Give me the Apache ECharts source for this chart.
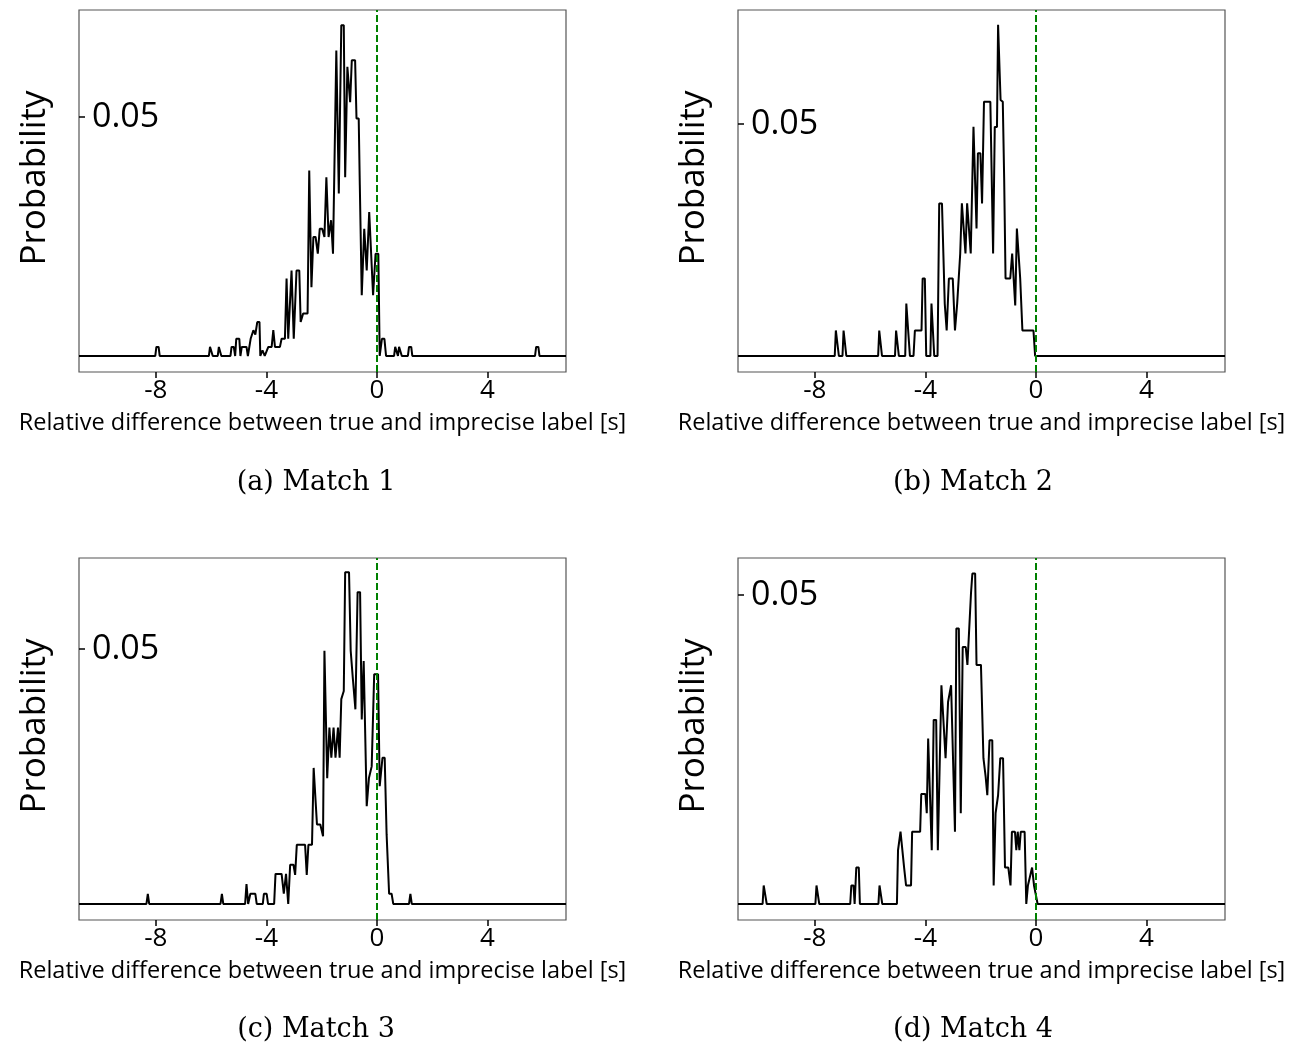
<!DOCTYPE html>
<html>
<head>
<meta charset="utf-8">
<script src="https://cdn.jsdelivr.net/npm/echarts@6/dist/echarts.min.js"></script>
<style>
  html, body { margin: 0; padding: 0; background: #fff; }
  #main { width: 1301px; height: 1044px; }
</style>
</head>
<body>
<div id="main"></div>
<script>
// x ticks and labels shared by every panel
const xTicks = [-8, -4, 0, 4];
const yTicks = [0.05];
const xTitle = 'Relative difference between true and imprecise label [s]';
const yTitle = 'Probability';
const captions = ['(a) Match 1', '(b) Match 2', '(c) Match 3', '(d) Match 4'];

// Match 1
const match1X = [-10.78, -8.02, -7.98, -7.90, -7.86, -6.08, -6.04, -5.98, -5.94, -5.76, -5.72, -5.67, -5.63,
  -5.30, -5.26, -5.18, -5.13, -5.09, -4.98, -4.94, -4.89, -4.72, -4.67, -4.63, -4.57, -4.47, -4.40, -4.33, -4.25,
  -4.22, -4.14, -4.06, -3.99, -3.93, -3.81, -3.75, -3.69, -3.51, -3.45, -3.33, -3.27, -3.21, -3.09, -3.01, -2.91,
  -2.81, -2.76, -2.67, -2.51, -2.45, -2.37, -2.30, -2.22, -2.14, -2.07, -1.98, -1.90, -1.83, -1.75, -1.66, -1.59,
  -1.52, -1.47, -1.38, -1.29, -1.20, -1.15, -1.07, -0.97, -0.91, -0.79, -0.74, -0.66, -0.62, -0.55, -0.46, -0.37,
  -0.28, -0.21, -0.14, -0.05, 0.05, 0.10, 0.18, 0.27, 0.33, 0.62, 0.66, 0.72, 0.76, 0.80, 0.86, 0.90, 1.12, 1.16,
  1.24, 1.28, 5.72, 5.76, 5.84, 5.88, 6.84];
const match1Y = [0, 0, 0.0019, 0.0019, 0, 0, 0.0019, 0.0019, 0, 0, 0.0019, 0.0019, 0,
  0, 0.0019, 0.0019, 0, 0.0036, 0.0036, 0, 0.0019, 0.0019, 0, 0, 0.0036, 0.0054, 0.0045, 0.0071, 0.0071,
  0, 0.0012, 0, 0, 0.0019, 0.0019, 0.0054, 0.0019, 0.0019, 0.0036, 0.0036, 0.0162, 0.0036, 0.0179, 0.0036, 0.0179,
  0.0179, 0.0071, 0.0089, 0.0089, 0.0388, 0.0144, 0.0249, 0.0249, 0.0214, 0.0266, 0.0266, 0.0249, 0.0374, 0.0249, 0.0284, 0.0214,
  0.0214, 0.0639, 0.0340, 0.0692, 0.0692, 0.0374, 0.0605, 0.0531, 0.0619, 0.0619, 0.0497, 0.0497, 0.0357, 0.0127, 0.0266, 0.0179,
  0.0301, 0.0301, 0.0127, 0.0214, 0.0214, 0, 0.0036, 0.0036, 0, 0, 0.0019, 0.0019, 0, 0.0019, 0.0019, 0, 0, 0.0019,
  0.0019, 0, 0, 0.0019, 0.0019, 0, 0];

// Match 2
const match2X = [-10.78, -7.28, -7.24, -7.18, -7.13, -7.00, -6.96, -6.91, -6.86, -5.71, -5.67, -5.61, -5.57,
  -5.10, -5.06, -5.00, -4.96, -4.73, -4.69, -4.62, -4.56, -4.43, -4.38, -4.14, -4.10, -4.02, -3.97, -3.82, -3.78,
  -3.73, -3.68, -3.56, -3.50, -3.40, -3.30, -3.23, -3.15, -3.01, -2.93, -2.85, -2.78, -2.74, -2.68, -2.61, -2.55,
  -2.49, -2.42, -2.36, -2.29, -2.26, -2.20, -2.15, -2.10, -2.01, -1.95, -1.91, -1.88, -1.65, -1.55, -1.49, -1.41,
  -1.37, -1.32, -1.28, -1.20, -1.15, -1.10, -0.93, -0.86, -0.80, -0.75, -0.69, -0.64, -0.57, -0.49, -0.09, -0.03, 6.84];
const match2Y = [0, 0, 0.0055, 0.0055, 0, 0, 0.0055, 0.0055, 0, 0, 0.0055, 0.0055, 0,
  0, 0.0055, 0.0055, 0, 0, 0.0113, 0.0113, 0, 0, 0.0055, 0.0055, 0.0167, 0.0167, 0, 0, 0.0113,
  0.0113, 0, 0, 0.0329, 0.0329, 0.0113, 0.0055, 0.0167, 0.0167, 0.0055, 0.0113, 0.0113, 0.0221, 0.0329, 0.0329, 0.0221,
  0.0329, 0.0329, 0.0221, 0.0221, 0.0494, 0.0494, 0.0275, 0.0437, 0.0437, 0.0329, 0.0329, 0.0548, 0.0548, 0.0221, 0.0494, 0.0494,
  0.0714, 0.0714, 0.0552, 0.0548, 0.0383, 0.0167, 0.0167, 0.0221, 0.0221, 0.0109, 0.0275, 0.0275, 0.0167, 0.0055, 0.0055, 0, 0];

// Match 3
const match3X = [-10.78, -8.34, -8.29, -8.24, -5.66, -5.61, -5.56, -4.77, -4.72, -4.66, -4.62, -4.58, -4.40, -4.35,
  -4.13, -4.09, -3.99, -3.94, -3.72, -3.67, -3.45, -3.37, -3.29, -3.21, -3.14, -3.02, -2.96, -2.90, -2.60, -2.54,
  -2.48, -2.35, -2.29, -2.22, -2.17, -2.05, -1.95, -1.90, -1.85, -1.80, -1.72, -1.65, -1.57, -1.50, -1.41, -1.35,
  -1.29, -1.20, -1.15, -1.01, -0.95, -0.87, -0.78, -0.70, -0.61, -0.55, -0.48, -0.42, -0.37, -0.29, -0.19, -0.10,
  0.04, 0.10, 0.20, 0.28, 0.35, 0.44, 0.53, 0.59, 1.16, 1.21, 1.26, 6.84];
const match3Y = [0, 0, 0.0020, 0, 0, 0.0020, 0, 0, 0.0039, 0, 0, 0.0020, 0.0020, 0,
  0, 0.0020, 0.0020, 0, 0, 0.0059, 0.0059, 0.0020, 0.0059, 0, 0.0077, 0.0077, 0.0057, 0.0116, 0.0116, 0.0057,
  0.0116, 0.0116, 0.0267, 0.0267, 0.0156, 0.0156, 0.0133, 0.0497, 0.0497, 0.0247, 0.0346, 0.0287, 0.0346, 0.0287, 0.0346, 0.0287,
  0.0402, 0.0418, 0.0651, 0.0651, 0.0497, 0.0441, 0.0382, 0.0612, 0.0612, 0.0362, 0.0477, 0.0477, 0.0192, 0.0247, 0.0270, 0.0451,
  0.0451, 0.0231, 0.0287, 0.0287, 0.0136, 0.0020, 0.0020, 0, 0, 0.0020, 0, 0];

// Match 4
const match4X = [-10.78, -9.89, -9.85, -9.78, -9.74, -7.98, -7.94, -7.88, -7.84, -6.72, -6.68, -6.60, -6.56, -6.50,
  -6.41, -6.37, -5.70, -5.66, -5.60, -5.56, -5.03, -4.99, -4.94, -4.90, -4.83, -4.77, -4.70, -4.52, -4.48, -4.19,
  -4.15, -4.00, -3.95, -3.90, -3.83, -3.77, -3.70, -3.61, -3.55, -3.42, -3.36, -3.27, -3.18, -3.07, -3.00, -2.93,
  -2.88, -2.79, -2.72, -2.65, -2.54, -2.48, -2.41, -2.35, -2.30, -2.20, -2.15, -1.99, -1.90, -1.82, -1.76, -1.68,
  -1.58, -1.53, -1.46, -1.37, -1.29, -1.19, -1.12, -1.00, -0.92, -0.87, -0.76, -0.71, -0.66, -0.60, -0.55, -0.41,
  -0.35, -0.29, -0.22, -0.14, -0.07, 0.00, 0.06, 6.84];
const match4Y = [0, 0, 0.0030, 0.0030, 0, 0, 0.0030, 0.0030, 0, 0, 0.0030, 0.0030, 0, 0.0059,
  0.0059, 0, 0, 0.0030, 0.0030, 0, 0, 0.0087, 0.0087, 0.0117, 0.0117, 0.0059, 0.0030, 0.0030, 0.0117, 0.0117,
  0.0178, 0.0178, 0.0147, 0.0268, 0.0268, 0.0087, 0.0298, 0.0298, 0.0087, 0.0354, 0.0354, 0.0236, 0.0327, 0.0354, 0.0354, 0.0117,
  0.0446, 0.0446, 0.0147, 0.0416, 0.0416, 0.0387, 0.0387, 0.0503, 0.0535, 0.0535, 0.0387, 0.0387, 0.0236, 0.0206, 0.0176, 0.0265,
  0.0265, 0.0030, 0.0147, 0.0176, 0.0236, 0.0236, 0.0059, 0.0059, 0.0030, 0.0117, 0.0117, 0.0087, 0.0117, 0.0087, 0.0117, 0.0117,
  0, 0.0030, 0.0030, 0.0059, 0.0030, 0.0030, 0, 0];

// y limits per panel (matplotlib autoscale)
const yMin = [-0.00335, -0.00345, -0.00315, -0.00259];
const yMax = [0.0724, 0.0746, 0.0679, 0.0560];

const allX = [match1X, match2X, match3X, match4X];
const allY = [match1Y, match2Y, match3Y, match4Y];

const grids = [
  { left: 79, top: 10, width: 487, height: 362 },
  { left: 738, top: 10, width: 487, height: 362 },
  { left: 79, top: 558, width: 487, height: 362 },
  { left: 738, top: 558, width: 487, height: 362 }
];
const captionPos = [[311, 464], [968, 464], [311, 1011], [968, 1011]];

const sans = 'Open Sans';

const chart = echarts.init(document.getElementById('main'));
const option = {
  animation: false,
  backgroundColor: '#fff',
  title: captions.map((c, i) => ({
    text: c,
    left: captionPos[i][0],
    top: captionPos[i][1],
    textAlign: 'center',
    textStyle: { fontFamily: 'DejaVu Serif', fontSize: 27, fontWeight: 'normal', color: '#000' }
  })),
  grid: grids.map(g => Object.assign({ show: true, borderColor: '#555', borderWidth: 1.2, containLabel: false }, g)),
  xAxis: grids.map((g, i) => ({
    type: 'value',
    gridIndex: i,
    min: -10.78,
    max: 6.84,
    axisLine: { show: false, onZero: false },
    splitLine: { show: false },
    axisTick: { customValues: xTicks, length: 6, lineStyle: { color: '#000', width: 1.5 } },
    axisLabel: { customValues: xTicks, fontFamily: sans, fontSize: 26, color: '#000', margin: 6 },
    name: xTitle,
    nameLocation: 'middle',
    nameGap: 39,
    nameTextStyle: { fontFamily: sans, fontSize: 23.5, color: '#000' }
  })),
  yAxis: grids.map((g, i) => ({
    type: 'value',
    gridIndex: i,
    min: yMin[i],
    max: yMax[i],
    axisLine: { show: false, onZero: false },
    splitLine: { show: false },
    axisTick: { customValues: yTicks, inside: true, length: 6, lineStyle: { color: '#000', width: 1.5 } },
    axisLabel: { customValues: yTicks, inside: true, fontFamily: sans, fontSize: 34, color: '#000', margin: 13 },
    name: yTitle,
    nameLocation: 'middle',
    nameGap: 26,
    nameTextStyle: { fontFamily: sans, fontSize: 35, color: '#000', padding: [0, 0, 0, 26] }
  })),
  series: allX.map((xs, i) => ({
    type: 'line',
    xAxisIndex: i,
    yAxisIndex: i,
    data: xs.map((x, k) => [x, allY[i][k]]),
    showSymbol: false,
    symbol: 'none',
    lineStyle: { color: '#000', width: 2 },
    markLine: {
      silent: true,
      symbol: 'none',
      label: { show: false },
      lineStyle: { color: '#008000', type: [7, 3], width: 2 },
      data: [{ xAxis: 0 }],
      z: 5
    }
  }))
};
chart.setOption(option);
</script>
</body>
</html>
